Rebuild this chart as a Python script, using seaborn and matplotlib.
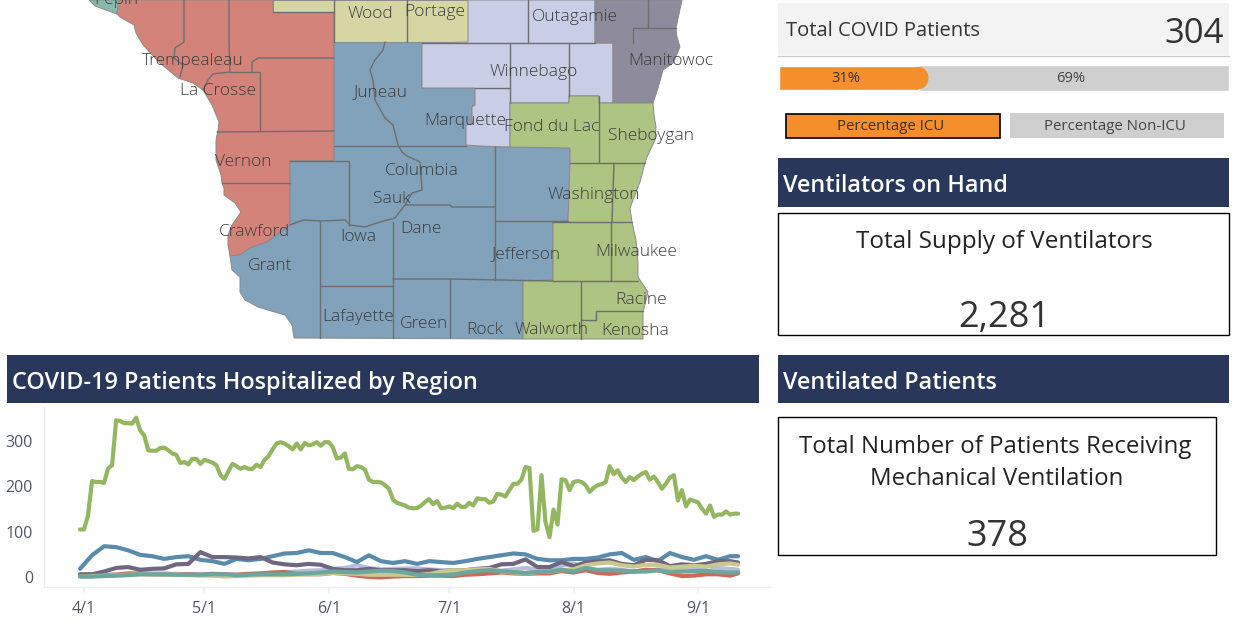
import matplotlib
matplotlib.use("Agg")
import matplotlib.pyplot as plt
from matplotlib.patches import Polygon, Rectangle, Ellipse
from matplotlib.ticker import FuncFormatter
import matplotlib.dates as mdates
import pandas as pd
import seaborn as sns

# ---------- chart data ----------
green_vals = [105,105,136,212,210,210,208,240,247,346,345,340,340,339,352,324,313,280,279,279,285,286,280,273,270,252,254,249,261,261,250,259,256,253,247,225,217,234,250,245,239,243,239,239,248,243,259,267,282,295,298,295,289,282,295,282,296,291,293,298,290,298,298,287,262,264,273,239,238,245,243,237,215,210,210,209,203,195,171,164,161,
              158,153,152,152,158,166,172,161,168,152,153,156,152,162,155,155,164,158,174,172,172,164,167,184,182,178,192,206,206,215,243,241,102,105,225,122,88,149,116,216,214,192,210,212,210,203,188,197,203,205,210,245,227,236,220,210,221,214,222,228,232,215,222,210,195,206,220,225,169,192,156,171,168,165,151,140,158,133,138,138,145,138,140,140]
blue_vals = [18,48,68,66,59,49,46,40,44,46,38,35,29,40,37,40,46,52,53,59,53,53,44,33,48,35,31,
             35,29,35,33,31,35,40,44,48,52,50,40,37,37,40,40,43,50,53,38,44,35,53,44,38,46,38,46,46]
purple_vals = [6,6,12,20,22,16,18,19,28,29,55,44,44,43,41,44,32,28,26,29,27,18,15,15,18,15,15,
               15,13,15,13,15,15,18,20,28,29,39,22,22,33,24,32,35,37,29,26,38,37,24,28,26,29,35,35,32]
olive_vals = [1,2,3,4,5,6,6,5,5,4,3,3,1,2,3,4,4,4,5,6,7,9,8,7,5,5,5,
              5,4,6,12,15,15,17,18,12,10,8,11,12,15,17,26,30,32,26,23,27,27,21,23,25,23,28,30,27]
teal_vals = [1,1,2,3,4,6,6,6,5,5,5,6,6,4,5,6,6,6,7,8,10,12,11,10,12,14,13,
             10,5,4,4,5,10,13,15,13,11,9,11,12,16,12,20,15,15,14,12,12,15,11,12,13,14,11,10,10]
red_vals = [2,2,4,5,8,7,6,5,5,6,5,7,6,5,7,8,10,11,7,6,6,9,7,3,0,-1,1,
            2,2,3,3,2,5,6,8,10,8,7,8,8,13,10,15,9,7,10,12,16,15,8,2,3,6,6,3,8]
lavender_vals = [3,4,5,6,7,9,8,8,7,6,6,5,6,5,6,7,8,11,12,14,15,18,20,26,20,17,18,
                 19,19,17,15,13,15,17,15,14,17,20,16,16,25,30,20,16,18,16,12,14,17,14,15,18,25,20,18,16]
month_ticks = ["2020-04-01","2020-05-01","2020-06-01","2020-07-01","2020-08-01","2020-09-01"]
y_ticks = [0,100,200,300]

start = pd.Timestamp("2020-03-31")
dates_daily = [start + pd.Timedelta(days=i) for i in range(len(green_vals))]
dates_sparse = [start + pd.Timedelta(days=i) for i in list(range(0,163,3))+[164]]

# ---------- KPI data ----------
total_patients = "304"
icu_pct = [31, 69]
total_vents = "2,281"
vent_patients = "378"

# ---------- map data (outlines, picture pixels) ----------
regions = {
 "teal": [(89,0),(95,6),(117,14),(119,0)],
 "red": [(119,0),(273,0),(273,12),(334,12),(334,161),(290,161),(290,225),(267,242),(250,248),(240,255),(230,256),(228,245),(228,235),(232,225),(241,212),(235,203),(224,195),(224,188),(222,183),(221,175),(216,160),(216,140),(218,130),(219,122),(212,105),(203,90),(193,83),(178,78),(160,63),(143,45),(136,33),(134,25),(120,17),(117,14)],
 "blue": [(334,42),(422,42),(422,88),(475,88),(475,105),(472,107),(472,124),(466,125),(466,145),(480,146),(495,147),(570,148),(570,163),(568,221),(553,222),(553,280),(523,281),(523,339),(294,338),(292,325),(285,315),(278,313),(258,307),(245,300),(240,292),(240,277),(232,270),(230,256),(240,255),(250,248),(267,242),(290,225),(290,161),(334,161)],
 "olive": [(273,0),(468,0),(468,42),(334,42),(334,12),(273,12)],
 "lavender": [(468,0),(595,0),(595,43),(613,43),(613,103),(599,103),(599,96),(569,96),(569,103),(510,103),(510,147),(480,146),(466,145),(466,125),(472,124),(472,107),(475,105),(475,88),(422,88),(422,43),(468,42)],
 "slate": [(595,0),(682,0),(676,28),(677,37),(680,47),(673,63),(663,70),(658,88),(653,103),(613,103),(613,43),(595,43)],
 "green": [(510,103),(569,103),(569,96),(599,96),(599,103),(653,103),(654,115),(656,127),(655,140),(647,157),(645,163),(640,182),(630,208),(632,222),(636,240),(638,263),(638,277),(648,292),(643,312),(643,339),(523,339),(523,281),(553,280),(553,222),(568,221),(570,163),(570,148),(510,147)],
}
region_colors = {"teal":"#88b7ae","red":"#d4837a","blue":"#81a2ba","olive":"#d5d6a4",
                 "lavender":"#c9cde6","slate":"#8d8b9c","green":"#adc483"}
county_lines = [
 [(184,0),(184,42),(175,48),(174,58),(183,65),(180,77)],
 [(229,0),(229,42),(230,72),(220,73),(213,74),(208,80),(203,90)],
 [(230,72),(260,72),(260,131)],
 [(252,72),(252,62),(258,58),(334,58)],
 [(217,132),(334,131)],
 [(222,183),(290,183)],
 [(385,42),(383,50),(375,60),(370,70),(373,80),(375,100),(385,118),(393,125),(398,145),(402,152),(407,156),(420,162),(422,190),(412,193),(405,205),(395,218),(380,222),(365,227),(350,225),(345,220),(320,221),(303,220),(290,225)],
 [(334,146),(466,146)],
 [(290,161),(349,161),(349,226)],
 [(320,221),(320,338)],
 [(320,286),(393,286)],
 [(393,222),(393,338)],
 [(405,205),(450,205),(452,207),(495,207)],
 [(495,147),(495,280)],
 [(495,221),(568,221)],
 [(393,279),(450,279),(553,281)],
 [(450,279),(450,338)],
 [(407,0),(407,42)],
 [(334,0),(334,42)],
 [(273,12),(334,12)],
 [(528,0),(528,43)],
 [(422,43),(595,43)],
 [(510,43),(510,103)],
 [(569,43),(569,96)],
 [(475,88),(510,88)],
 [(648,0),(648,28)],
 [(676,28),(633,28),(633,43)],
 [(599,96),(599,163)],
 [(570,163),(645,163)],
 [(614,163),(612,222)],
 [(553,222),(632,222)],
 [(611,222),(611,281)],
 [(553,281),(638,281)],
 [(581,281),(581,339)],
 [(581,320),(596,320),(596,311),(643,311)],
]
county_labels = [("Pepin",116,-2),("Wood",370,12),("Portage",435,10),("Outagamie",575,15),("Manitowoc",671,59),
 ("Winnebago",534,70),("Trempealeau",193,59),("La Crosse",218,89),("Juneau",380,90),("Marquette",465,119),
 ("Fond du Lac",552,125),("Sheboygan",651,134),("Vernon",243,160),("Columbia",422,169),("Sauk",392,197),
 ("Washington",594,193),("Crawford",254,230),("Iowa",358,235),("Dane",421,227),("Jefferson",526,252),
 ("Milwaukee",636,250),("Grant",270,264),("Lafayette",358,315),("Green",424,322),("Rock",485,328),
 ("Walworth",552,328),("Racine",641,298),("Kenosha",635,329)]

# ---------- set up ----------
sns.set_theme(style="white")
plt.rcParams['font.family'] = ['Open Sans', 'DejaVu Sans']
W, H = 1233, 632
fig = plt.figure(figsize=(W/100, H/100), dpi=100, facecolor="white")

def ax_px(l, t, r, b, **kw):
    return fig.add_axes([l/W, 1-b/H, (r-l)/W, (b-t)/H], **kw)

# page layer
pg = fig.add_axes([0,0,1,1], zorder=2)
pg.set_xlim(0,W); pg.set_ylim(H,0); pg.axis("off"); pg.patch.set_alpha(0)

for name, pts in regions.items():
    pg.add_patch(Polygon(pts, closed=True, fc=region_colors[name], ec="#8a8a8a", lw=0.7, zorder=2))
for ln in county_lines:
    xs, ys = zip(*ln)
    pg.plot(xs, ys, color="#6e6e6e", lw=1.0, zorder=3, solid_joinstyle="round")
for t, x, y in county_labels:
    pg.text(x, y+2, t, ha="center", va="center", fontsize=12.5, fontweight="light", color="#3c3c3c", zorder=4)

def header(x0, x1, y0, y1, text, tx, size):
    pg.add_patch(Rectangle((x0,y0), x1-x0, y1-y0, fc="#29375a", ec="none", zorder=2))
    pg.text(tx, (y0+y1)/2+4, text, color="white", fontsize=size, fontweight="semibold", ha="left", va="center", zorder=3)

header(7,759,355,403,"COVID-19 Patients Hospitalized by Region",12,16.8)
header(778,1229,158,207,"Ventilators on Hand",783,16.8)
header(778,1229,355,403,"Ventilated Patients",783,16.8)

# total panel
pg.add_patch(Rectangle((778,3),451,52,fc="#f3f3f3",ec="none",zorder=2))
pg.plot([778,1229],[55.5,55.5],color="#cccccc",lw=1,zorder=3)
pg.text(786,31,"Total COVID Patients",fontsize=14.5,color="#333333",va="center",ha="left",zorder=4)
pg.text(1224,34,total_patients,fontsize=25,color="#333333",va="center",ha="right",zorder=4)

# legend
pg.add_patch(Rectangle((785.5,113.5),214,24,fc="#f58f2c",ec="black",lw=1.2,zorder=2))
pg.add_patch(Rectangle((1010,113),214,25,fc="#cfcfcf",ec="none",zorder=2))
pg.text(890.5,127,"Percentage ICU",fontsize=10.8,color="#333333",ha="center",va="center",zorder=3)
pg.text(1114.5,127,"Percentage Non-ICU",fontsize=10.8,color="#444444",ha="center",va="center",zorder=3)

# boxes
for (x0,y0,x1,y1) in [(778,213,1229,335),(778,417,1216,555)]:
    pg.add_patch(Rectangle((x0,y0),x1-x0,y1-y0,fc="white",ec="black",lw=1,zorder=2))
pg.text(1004,242,"Total Supply of Ventilators",fontsize=17.5,color="#222222",ha="center",va="center",zorder=3)
pg.text(1004,318,total_vents,fontsize=26,color="#333333",ha="center",va="center",zorder=3)
pg.text(995,447,"Total Number of Patients Receiving",fontsize=17.3,color="#222222",ha="center",va="center",zorder=3)
pg.text(997,479,"Mechanical Ventilation",fontsize=17.3,color="#222222",ha="center",va="center",zorder=3)
pg.text(997,537,vent_patients,fontsize=26,color="#333333",ha="center",va="center",zorder=3)

# stacked ICU bar
bar_l, bar_r = 779, 1229
ab = ax_px(778, 65, 1230, 91, zorder=1)
ab.set_xlim(-(bar_l-778)/(bar_r-bar_l)*100, 100+(1230-bar_r)/(bar_r-bar_l)*100)
ab.set_ylim(0,1); ab.axis("off")
ab.barh([0.5],[100],height=1.0,color="#cfcfcf")
ab.barh([0.5],[icu_pct[0]],height=24/26,color="#f58f2c")
end_px = bar_l + icu_pct[0]/100*(bar_r-bar_l)
pg.add_patch(Ellipse((end_px,78),20,22.5,fc="#f58f2c",ec="none",zorder=1))
pg.text(846,79,f"{icu_pct[0]}%",fontsize=10.6,color="#333333",ha="center",va="center",zorder=5)
pg.text(1071,79,f"{icu_pct[1]}%",fontsize=10.6,color="#444444",ha="center",va="center",zorder=5)

# line chart
ac = ax_px(44, 407, 770, 587, zorder=3)
ac.patch.set_alpha(0)
series = [(dates_daily,green_vals,"#94b661"),
          (dates_sparse,lavender_vals,"#b9bddd"),
          (dates_sparse,red_vals,"#d1675a"),
          (dates_sparse,blue_vals,"#5b8bab"),
          (dates_sparse,purple_vals,"#6f677f"),
          (dates_sparse,olive_vals,"#c9c98e"),
          (dates_sparse,teal_vals,"#6ba79d")]
for d, v, c in series:
    sns.lineplot(x=d, y=v, color=c, lw=3.0, ax=ac, legend=False, estimator=None, errorbar=None)
d0 = pd.Timestamp("2020-04-01")
pxday = (698-84)/153
ac.set_xlim(d0 + pd.Timedelta(days=(44-84)/pxday), d0 + pd.Timedelta(days=(770-84)/pxday))
ac.set_ylim((577-587)/0.4525, (577-407)/0.4525)
ac.set_xticks([pd.Timestamp(m) for m in month_ticks])
ac.xaxis.set_major_formatter(FuncFormatter(lambda v,_: f"{mdates.num2date(v).month}/{mdates.num2date(v).day}"))
ac.set_yticks(y_ticks)
ac.grid(False)
for s in ["top","right"]:
    ac.spines[s].set_visible(False)
for s in ["left","bottom"]:
    ac.spines[s].set_color("#eeeeee"); ac.spines[s].set_linewidth(1)
ac.tick_params(axis="x", length=4, color="#eeeeee", labelsize=11.5, labelcolor="#4f5563", pad=6, bottom=True)
ac.tick_params(axis="y", length=8, color="#eeeeee", labelsize=11.5, labelcolor="#4f5563", pad=0, left=False)
ac.set_xlabel(""); ac.set_ylabel("")

fig.savefig("out.png", dpi=100)
